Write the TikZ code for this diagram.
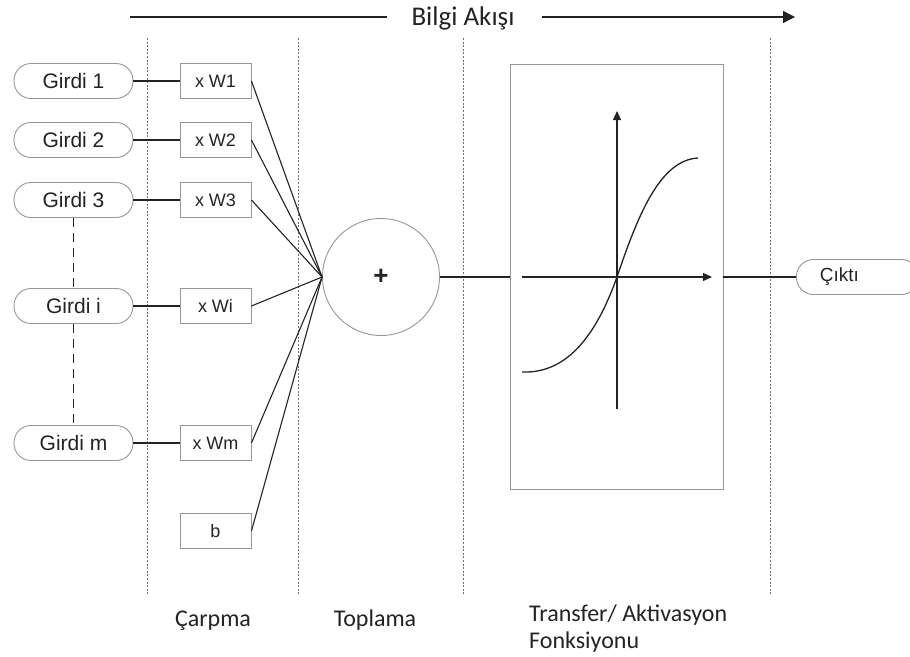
\documentclass[tikz,border=0pt]{standalone}
\usepackage{fontspec}
\setmainfont{Liberation Sans}
\newfontfamily\labelfont{Carlito}
\usetikzlibrary{arrows.meta}
\definecolor{ink}{RGB}{35,35,35}
\definecolor{frame}{RGB}{150,150,150}
\definecolor{sep}{RGB}{110,110,110}
\begin{document}
\begin{tikzpicture}[x=1pt,y=-1pt,
  pill/.style={draw=frame,line width=0.9pt,rounded corners=17pt,minimum width=119pt,minimum height=35pt,inner sep=0pt,font=\fontsize{21}{24}\selectfont,text=ink},
  wbox/.style={draw=frame,line width=0.9pt,minimum width=71pt,minimum height=35pt,inner sep=0pt,font=\fontsize{18}{20}\selectfont,text=ink},
  wire/.style={draw=ink,line width=1.3pt},
  separator/.style={draw=sep,line width=0.8pt,dash pattern=on 2pt off 1.6pt},
  caption/.style={font=\labelfont\fontsize{24}{27}\selectfont,text=ink,inner sep=0pt}]
\useasboundingbox (0,0) rectangle (910,656);

% stage separators
\foreach \x in {147,298,463,770}
  \draw[separator] (\x,38) -- (\x,594);

% information flow arrow
\node[font=\labelfont\fontsize{27}{30}\selectfont,text=ink,inner sep=0pt,anchor=base] (flow) at (463,25) {Bilgi Akışı};
\coordinate (flowstart) at (130,17);
\coordinate (flowend) at (795,17);
\coordinate (flowleft) at ([xshift=-24pt]flow.west);
\coordinate (flowright) at ([xshift=27pt]flow.east);
\draw[wire] (flowstart) -- (flowstart -| flowleft);
\draw[wire,-{Triangle[length=12pt,width=12pt]}] (flowend -| flowright) -- (flowend);

% inputs
\node[pill] (g1) at (73.5,81) {Girdi 1};
\node[pill] (g2) at (73.5,140) {Girdi 2};
\node[pill] (g3) at (73.5,200) {Girdi 3};
\node[pill] (gi) at (73.5,306) {Girdi i};
\node[pill] (gm) at (73.5,443) {Girdi m};
\draw[wire,dash pattern=on 9pt off 6pt,line width=1.6pt] (g3.south) -- (gi.north);
\draw[wire,dash pattern=on 9pt off 6pt,line width=1.6pt] (gi.south) -- (gm.north);

% weights
\node[wbox] (w1) at (215.5,81) {x W1};
\node[wbox] (w2) at (215.5,140) {x W2};
\node[wbox] (w3) at (215.5,200) {x W3};
\node[wbox] (wi) at (215.5,306) {x Wi};
\node[wbox] (wm) at (215.5,443) {x Wm};
\node[wbox] (b) at (215.5,531) {b};

\foreach \s/\t in {g1/w1,g2/w2,g3/w3,gi/wi,gm/wm}
  \draw[wire] (\s.east) -- (\t.west);

% summation
\node[circle,draw=frame,line width=0.9pt,minimum size=117pt,inner sep=0pt,font=\fontsize{26}{28}\bfseries\selectfont,text=ink] (sum) at (381,277) {+};
\foreach \t in {w1,w2,w3,wi,wm,b}
  \draw[wire,line width=1.1pt] (\t.east) -- (sum.west);

% activation function box
\node[draw=frame,line width=0.9pt,minimum width=213pt,minimum height=425pt,inner sep=0pt] (act) at (616.5,276.5) {};
\draw[wire] (sum.east) -- (act.west |- sum.east);
\coordinate (xstart) at (522,277);
\coordinate (xend) at (712,277);
\coordinate (ystart) at (617,409);
\coordinate (yend) at (617,111);
\draw[wire,-{Triangle[length=9pt,width=8pt]}] (xstart) -- (xend);
\draw[wire,-{Triangle[length=9pt,width=8pt]}] (ystart) -- (yend);
\draw[wire] (522,372) .. controls (570,374) and (598,330) .. (617,277)
            .. controls (638,215) and (660,160) .. (698,158);

% output
\node[pill,minimum width=122pt,anchor=west,font=\fontsize{19}{21}\selectfont] (out) at (796,277) {\hspace*{-36pt}Çıktı};
\draw[wire] (act.east |- out.west) -- (out.west);

% stage captions
\node[caption,anchor=base] (c1) at (213,626) {Çarpma};
\node[caption,anchor=base] (c2) at (375,626) {Toplama};
\node[caption,anchor=base west] (c3) at (529,621) {Transfer/ Aktivasyon};
\node[caption,anchor=base west] (c4) at (529,648) {Fonksiyonu};
\end{tikzpicture}
\end{document}
